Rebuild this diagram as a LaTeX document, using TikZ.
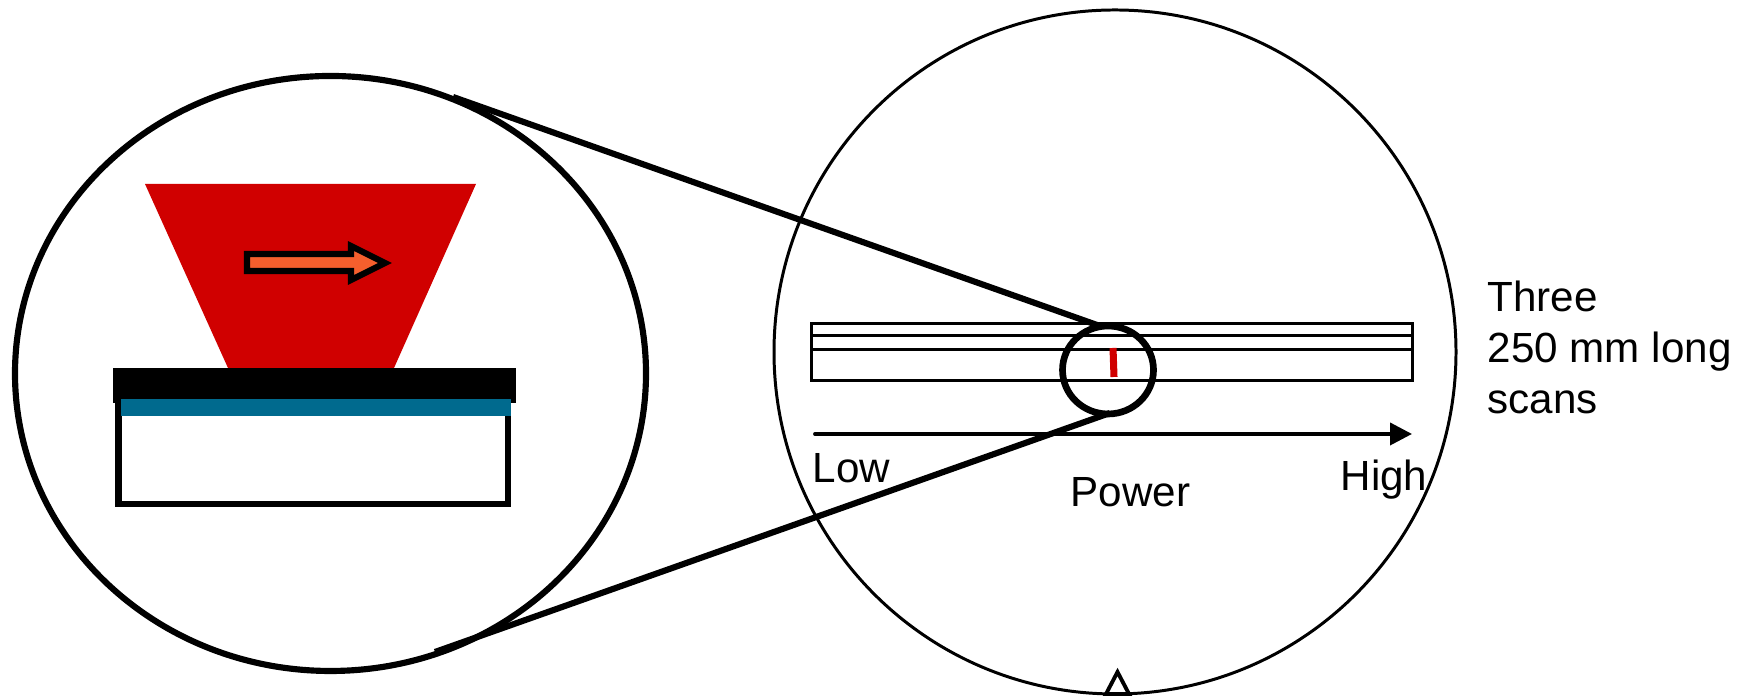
\documentclass[tikz,border=0pt]{standalone}
\usepackage{fontspec}
\setmainfont{Liberation Sans}
\usetikzlibrary{arrows.meta}
\definecolor{myred}{RGB}{208, 0, 0}
\definecolor{myblue}{RGB}{0, 106, 142}
\definecolor{myorange}{RGB}{245, 95, 45}
\tikzset{
  thickline/.style={line width=1.75pt},
  thinline/.style={line width=0.85pt},
  label/.style={anchor=base west, inner sep=0pt, font=\fontsize{12}{14.8}\selectfont},
}

\begin{document}
\begin{tikzpicture}[>=Stealth]
  \useasboundingbox (0, 0) rectangle (17.38, 6.97);

  % Zoomed ellipse (left)
  \draw[thickline] (3.305, 3.235) ellipse (3.155 and 2.975);

  % Laser beam
  \fill[myred] (1.45, 5.13) -- (4.76, 5.13) -- (3.94, 3.29) -- (2.28, 3.29) -- cycle;

  % Scan direction arrow
  \draw[thickline, fill=myorange, miter limit=10] (2.47, 4.43) -- (3.51, 4.43) -- (3.51, 4.51) -- (3.85, 4.34)
    -- (3.51, 4.17) -- (3.51, 4.26) -- (2.47, 4.26) -- cycle;

  % Substrate, film and top layer
  \draw[thickline, fill=white] (1.185, 2.93) rectangle (5.08, 1.93);
  \fill[black] (1.13, 3.29) rectangle (5.16, 2.94);
  \fill[myblue] (1.21, 2.98) rectangle (5.11, 2.81);

  % Wafer (right)
  \draw[thinline] (11.15, 3.45) ellipse (3.41 and 3.42);
  \draw[line width=1.1pt, fill=white] (11.06, 0.03) -- (11.175, 0.25) -- (11.29, 0.03) -- cycle;

  % Three scan tracks
  \draw[thinline] (8.11, 3.735) rectangle (14.12, 3.16);
  \draw[thinline] (8.11, 3.61) -- (14.12, 3.61);
  \draw[thinline] (8.11, 3.47) -- (14.12, 3.47);

  % Red mark
  \draw[myred, line width=2pt] (11.13, 3.49) -- (11.14, 3.20);

  % Small circle and lines to the ellipse
  \draw[line width=1.9pt] (11.08, 3.27) ellipse (0.455 and 0.44);
  \coordinate (topleft) at (4.53, 6.00);
  \coordinate (topright) at (10.97, 3.72);
  \coordinate (botleft) at (4.35, 0.45);
  \coordinate (botright) at (11.10, 2.84);
  \draw[thickline] (topleft) -- (topright);
  \draw[thickline] (botleft) -- (botright);

  % Power axis
  \coordinate (powerstart) at (8.15, 2.63);
  \coordinate (powerend) at (14.12, 2.63);
  \draw[-{Triangle[length=2.2mm, width=2.2mm]}, line width=1.1pt, line cap=round] (powerstart) -- (powerend);

  % Labels
  \node[label] (low) at (8.12, 2.14) {Low};
  \node[label] (power) at (10.70, 1.90) {Power};
  \node[label] (high) at (13.40, 2.06) {High};
  \node[label] (three) at (14.87, 3.85) {Three};
  \node[label] (long) at (14.87, 3.34) {250 mm long};
  \node[label] (scans) at (14.87, 2.83) {scans};
\end{tikzpicture}
\end{document}
